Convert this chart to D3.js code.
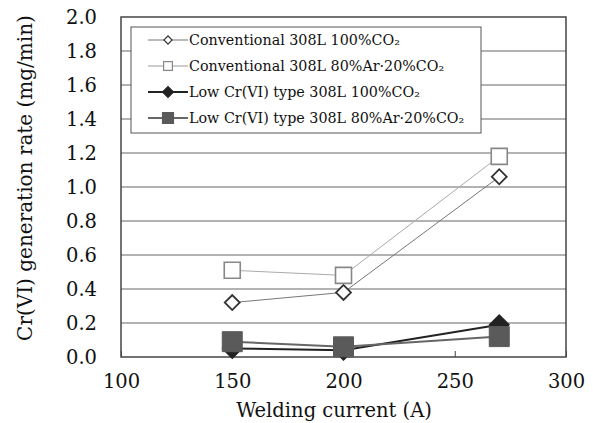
<!DOCTYPE html>
<html><head><meta charset="utf-8">
<script src="https://cdn.jsdelivr.net/npm/d3@7"></script>
<style>body{margin:0;background:#fff;} text{font-family:"DejaVu Serif","Liberation Serif",serif;}</style>
</head><body>
<svg id="c" width="593" height="423"></svg>
<script>
const currents = [150, 200, 270];
const seriesNames = [
  "Conventional 308L 100%CO₂",
  "Conventional 308L 80%Ar·20%CO₂",
  "Low Cr(VI) type 308L 100%CO₂",
  "Low Cr(VI) type 308L 80%Ar·20%CO₂"
];
const convCO2 = [0.32, 0.38, 1.06];
const convAr = [0.51, 0.48, 1.18];
const lowCO2 = [0.05, 0.04, 0.19];
const lowAr = [0.09, 0.06, 0.12];
const xTicks = [100, 150, 200, 250, 300];
const yTicks = [0, 0.2, 0.4, 0.6, 0.8, 1.0, 1.2, 1.4, 1.6, 1.8, 2.0];

const styles = [
  {values: convCO2, line: "#777", lw: 1, shape: d3.symbolSquare, rot: 45, size: 112, fill: "#fff", stroke: "#333", sw: 1.8},
  {values: convAr, line: "#aaa", lw: 1, shape: d3.symbolSquare, rot: 0, size: 256, fill: "#fff", stroke: "#888", sw: 1.6},
  {values: lowCO2, line: "#222", lw: 2, shape: d3.symbolSquare, rot: 45, size: 200, fill: "#222", stroke: "#222", sw: 1},
  {values: lowAr, line: "#666", lw: 2, shape: d3.symbolSquare, rot: 0, size: 400, fill: "#5a5a5a", stroke: "#5a5a5a", sw: 1}
];

const svg = d3.select("#c");
const L = 121, R = 566, T = 17, B = 357;
const x = d3.scaleLinear().domain([100, 300]).range([L, R]);
const y = d3.scaleLinear().domain([0, 2]).range([B, T]);

// gridlines
svg.append("g").selectAll("line").data(yTicks.slice(1, -1)).join("line")
  .attr("x1", L).attr("x2", R).attr("y1", d => y(d)).attr("y2", d => y(d))
  .attr("stroke", "#666").attr("stroke-width", 1);

// frame
svg.append("rect").attr("x", L).attr("y", T).attr("width", R - L).attr("height", B - T)
  .attr("fill", "none").attr("stroke", "#444").attr("stroke-width", 1.5);

// axes
const xAxis = svg.append("g").attr("transform", `translate(0,${B})`)
  .call(d3.axisBottom(x).tickValues(xTicks).tickSize(-6).tickPadding(17).tickFormat(d3.format("d")));
const yAxis = svg.append("g").attr("transform", `translate(${L},0)`)
  .call(d3.axisLeft(y).tickValues(yTicks).tickSize(0).tickPadding(24).tickFormat(d3.format(".1f")));
[xAxis, yAxis].forEach(a => {
  a.select(".domain").remove();
  a.selectAll("text").attr("font-size", 19.5).attr("fill", "#111").style("font-family", '"DejaVu Serif",serif');
  a.selectAll("line").attr("stroke", "#444");
});

// axis titles
svg.append("text").attr("x", 334).attr("y", 417).attr("text-anchor", "middle")
  .attr("font-size", 19.5).attr("fill", "#111").text("Welding current (A)");
svg.append("text").attr("transform", "translate(32,178) rotate(-90)").attr("text-anchor", "middle")
  .attr("font-size", 20).attr("fill", "#111").text("Cr(VI) generation rate (mg/min)");

// lines and markers
const lineGen = d3.line().x((d, i) => x(currents[i])).y(d => y(d));
styles.forEach(s => {
  svg.append("path").datum(s.values).attr("d", lineGen)
    .attr("fill", "none").attr("stroke", s.line).attr("stroke-width", s.lw);
});
styles.forEach(s => {
  svg.append("g").selectAll("path").data(s.values).join("path")
    .attr("transform", (d, i) => `translate(${x(currents[i])},${y(d)}) rotate(${s.rot})`)
    .attr("d", d3.symbol().type(s.shape).size(s.size))
    .attr("fill", s.fill).attr("stroke", s.stroke).attr("stroke-width", s.sw);
});

// legend
const lg = svg.append("g");
lg.append("rect").attr("x", 131).attr("y", 27).attr("width", 350).attr("height", 106)
  .attr("fill", "#fff").attr("stroke", "#555").attr("stroke-width", 1);
seriesNames.forEach((name, i) => {
  const s = styles[i];
  const yy = 40 + i * 26;
  lg.append("line").attr("x1", 148).attr("x2", 188).attr("y1", yy).attr("y2", yy)
    .attr("stroke", s.line === "#aaa" ? "#999" : s.line).attr("stroke-width", s.lw);
  lg.append("path").attr("transform", `translate(168,${yy}) rotate(${s.rot})`)
    .attr("d", d3.symbol().type(s.shape).size(s.size * 0.3))
    .attr("fill", s.fill).attr("stroke", s.stroke).attr("stroke-width", 1.2);
  lg.append("text").attr("x", 189).attr("y", yy + 5).attr("font-size", 14.3).attr("fill", "#111").text(name);
});
</script>
</body></html>
